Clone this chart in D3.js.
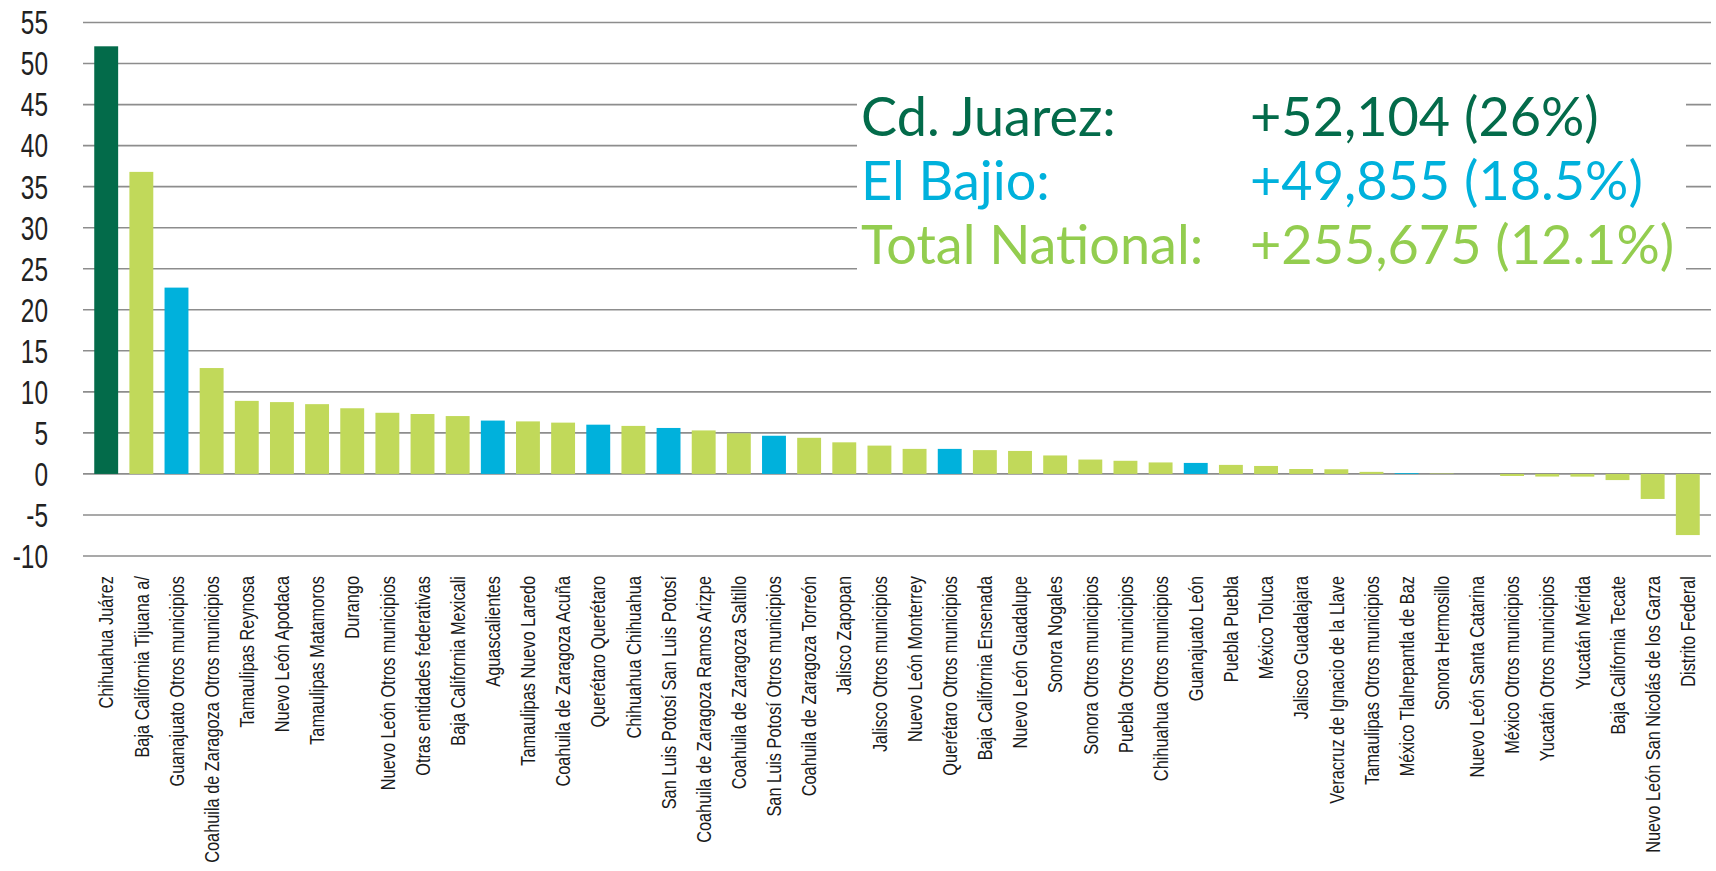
<!DOCTYPE html>
<html>
<head>
<meta charset="utf-8">
<script src="https://cdn.jsdelivr.net/npm/d3@7"></script>
<style>
  body { margin: 0; background: #fff; }
  svg { display: block; }
</style>
</head>
<body>
<div id="chart"></div>
<script>
// municipalities, ordered as in the chart
const categories = [
  "Chihuahua Juárez", "Baja California Tijuana a/", "Guanajuato Otros municipios",
  "Coahuila de Zaragoza Otros municipios", "Tamaulipas Reynosa", "Nuevo León Apodaca",
  "Tamaulipas Matamoros", "Durango", "Nuevo León Otros municipios",
  "Otras entidades federativas", "Baja California Mexicali", "Aguascalientes",
  "Tamaulipas Nuevo Laredo", "Coahuila de Zaragoza Acuña", "Querétaro Querétaro",
  "Chihuahua Chihuahua", "San Luis Potosí San Luis Potosí", "Coahuila de Zaragoza Ramos Arizpe",
  "Coahuila de Zaragoza Saltillo", "San Luis Potosí Otros municipios", "Coahuila de Zaragoza Torreón",
  "Jalisco Zapopan", "Jalisco Otros municipios", "Nuevo León Monterrey",
  "Querétaro Otros municipios", "Baja California Ensenada", "Nuevo León Guadalupe",
  "Sonora Nogales", "Sonora Otros municipios", "Puebla Otros municipios",
  "Chihuahua Otros municipios", "Guanajuato León", "Puebla Puebla", "México Toluca",
  "Jalisco Guadalajara", "Veracruz de Ignacio de la Llave", "Tamaulipas Otros municipios",
  "México Tlalnepantla de Baz", "Sonora Hermosillo", "Nuevo León Santa Catarina",
  "México Otros municipios", "Yucatán Otros municipios", "Yucatán Mérida",
  "Baja California Tecate", "Nuevo León San Nicolás de los Garza", "Distrito Federal"
];

// change in jobs, thousands
const values = [
  52.1, 36.8, 22.7, 12.9, 8.9, 8.75, 8.5, 8.0, 7.45, 7.3, 7.05, 6.5, 6.4, 6.25, 6.0, 5.85,
  5.6, 5.3, 4.95, 4.65, 4.4, 3.85, 3.45, 3.05, 3.05, 2.9, 2.8, 2.25, 1.75, 1.6, 1.4, 1.34,
  1.1, 0.97, 0.6, 0.57, 0.25, 0.1, 0.05, 0.0, -0.25, -0.32, -0.33, -0.75, -3.05, -7.45
];

// group of each bar: J = Cd. Juarez, B = El Bajio, N = rest of national
const groups = [
  "J", "N", "B", "N", "N", "N", "N", "N", "N", "N", "N", "B", "N", "N", "B", "N",
  "B", "N", "N", "B", "N", "N", "N", "N", "B", "N", "N", "N", "N", "N", "N", "B",
  "N", "N", "N", "N", "N", "B", "N", "N", "N", "N", "N", "N", "N", "N"
];

const yTicks = [-10, -5, 0, 5, 10, 15, 20, 25, 30, 35, 40, 45, 50, 55];

const noteLabels = ["Cd. Juarez:", "El Bajio:", "Total National:"];
const noteValues = ["+52,104 (26%)", "+49,855 (18.5%)", "+255,675 (12.1%)"];

const groupColor = { J: "#036b4a", B: "#00b1dc", N: "#c1d95a" };
const noteColors = ["#036b4a", "#00b1dc", "#93cd4f"];

const width = 1716, height = 871;
const baseFont = "'Liberation Sans', Arial, sans-serif";

const svg = d3.select("#chart").append("svg")
  .attr("width", width)
  .attr("height", height);

const x = d3.scaleBand()
  .domain(categories)
  .range([83, 1711])
  .padding(0.32);

const y = d3.scaleLinear()
  .domain([-10, 55])
  .range([556, 22.5]);

// gridlines
svg.append("g")
  .selectAll("line")
  .data(yTicks)
  .join("line")
  .attr("x1", 83)
  .attr("x2", 1711)
  .attr("y1", d => y(d))
  .attr("y2", d => y(d))
  .style("stroke", "#8d8d8d")
  .style("stroke-width", 1.6);

// y axis labels (squeezed to look condensed)
svg.append("g")
  .selectAll("text")
  .data(yTicks)
  .join("text")
  .attr("transform", d => `translate(48,${y(d)}) scale(0.74,1)`)
  .attr("dy", "0.36em")
  .attr("text-anchor", "end")
  .style("font-family", baseFont)
  .style("font-size", "33px")
  .style("fill", "#222")
  .text(d => d);

// bars
svg.append("g")
  .selectAll("rect")
  .data(values)
  .join("rect")
  .attr("x", (d, i) => x(categories[i]))
  .attr("width", x.bandwidth())
  .attr("y", d => y(Math.max(0, d)))
  .attr("height", d => Math.abs(y(d) - y(0)))
  .style("fill", (d, i) => groupColor[groups[i]]);

// category labels, rotated
const labels = svg.append("g")
  .selectAll("text")
  .data(categories)
  .join("text")
  .attr("dy", "0.36em")
  .attr("text-anchor", "end")
  .style("font-family", baseFont)
  .style("font-size", "20px")
  .style("fill", "#1a1a1a")
  .text(d => d);

// squeeze so the longest label is as long as in the original
let longest = 0;
labels.each(function () { longest = Math.max(longest, this.getComputedTextLength()); });
const squeeze = 287 / longest;
labels.attr("transform", d =>
  `translate(${x(d) + x.bandwidth() / 2},576) rotate(-90) scale(${squeeze},1)`);

// white text box with the summary
svg.append("rect")
  .attr("x", 857)
  .attr("y", 78)
  .attr("width", 829)
  .attr("height", 215)
  .style("fill", "#fff");

const notes = svg.append("g")
  .style("font-family", "Lato, 'Open Sans', sans-serif")
  .style("font-weight", 400)
  .style("font-size", "54px");

notes.selectAll("text.lab")
  .data(noteLabels)
  .join("text")
  .attr("class", "lab")
  .attr("x", 861)
  .attr("y", (d, i) => 136 + i * 64)
  .style("fill", (d, i) => noteColors[i])
  .text(d => d);

notes.selectAll("text.val")
  .data(noteValues)
  .join("text")
  .attr("class", "val")
  .attr("x", 1250)
  .attr("y", (d, i) => 136 + i * 64)
  .style("fill", (d, i) => noteColors[i])
  .text(d => d);
</script>
</body>
</html>
